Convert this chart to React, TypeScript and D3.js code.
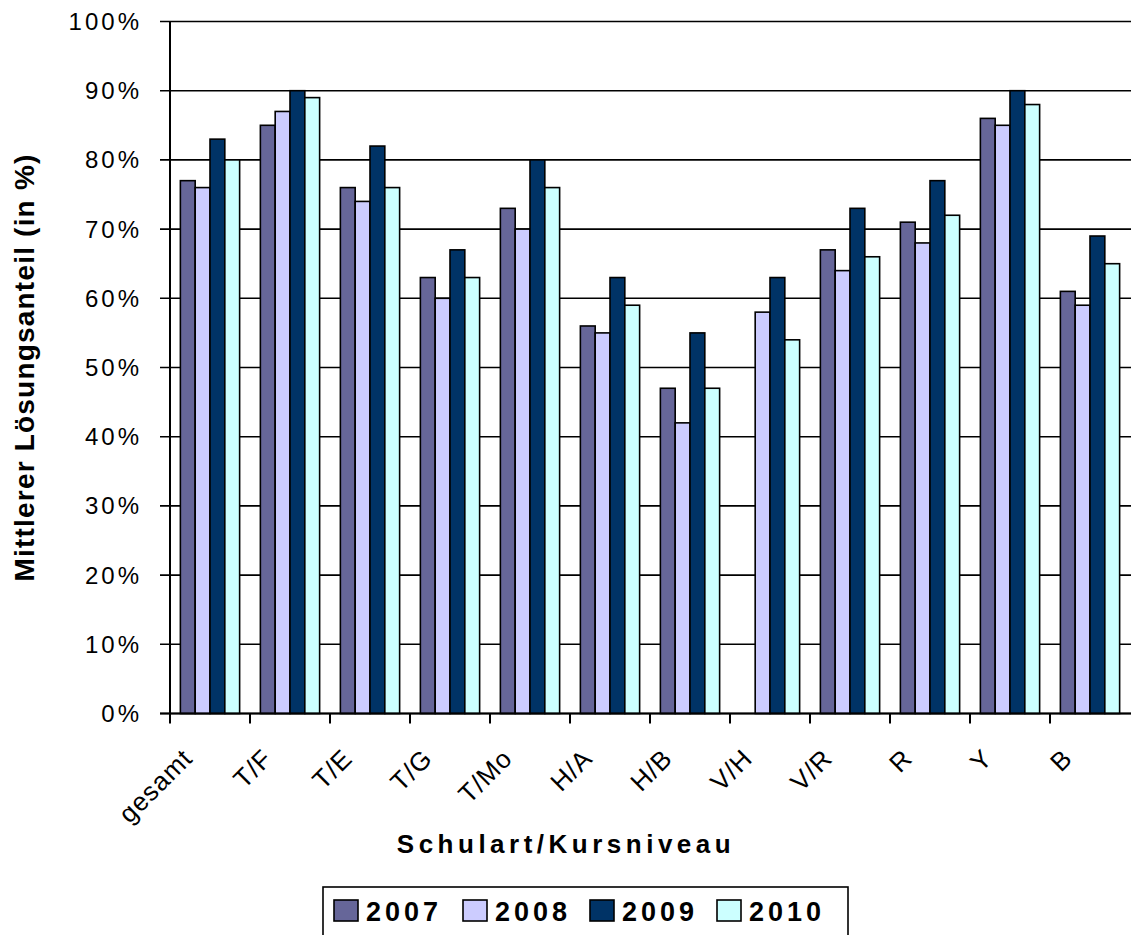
import React from "react";
import * as d3 from "d3";

const categories = ["gesamt", "T/F", "T/E", "T/G", "T/Mo", "H/A", "H/B", "V/H", "V/R", "R", "Y", "B"];
const seriesNames = ["2007", "2008", "2009", "2010"];
const values2007: (number | null)[] = [77, 85, 76, 63, 73, 56, 47, null, 67, 71, 86, 61];
const values2008: (number | null)[] = [76, 87, 74, 60, 70, 55, 42, 58, 64, 68, 85, 59];
const values2009: (number | null)[] = [83, 90, 82, 67, 80, 63, 55, 63, 73, 77, 90, 69];
const values2010: (number | null)[] = [80, 89, 76, 63, 76, 59, 47, 54, 66, 72, 88, 65];
const yTicks = [0, 10, 20, 30, 40, 50, 60, 70, 80, 90, 100];
const colors = ["#666699", "#CCCCFF", "#003366", "#CCFFFF"];

const W = 1131;
const H = 935;
const FONT = "'Liberation Sans', Arial, sans-serif";

export default function App() {
  const series = [values2007, values2008, values2009, values2010];
  const left = 170;
  const right = 1130;
  const top = 21.5;
  const bottom = 713.5;

  const x0 = d3.scaleBand<string>().domain(categories).range([left, right]).paddingInner(0).paddingOuter(0);
  const x1 = d3
    .scaleBand<string>()
    .domain(seriesNames)
    .range([0, x0.bandwidth()])
    .paddingInner(0)
    .paddingOuter(0.7);
  const y = d3.scaleLinear().domain([0, 100]).range([bottom, top]);

  const legendX = [334, 463, 590, 717];

  return (
    <svg width={W} height={H} style={{ position: "absolute", left: 0, top: 0, background: "#fff" }}>
      <rect x={0} y={0} width={W} height={H} fill="#fff" />
      {yTicks.map((t) => (
        <line key={"g" + t} x1={160} x2={W} y1={y(t)} y2={y(t)} stroke="#000" strokeWidth={1.6} />
      ))}
      {yTicks.map((t) => (
        <text
          key={"yl" + t}
          x={142}
          y={y(t) + 8.5}
          textAnchor="end"
          fontFamily={FONT}
          fontSize={24}
          letterSpacing={3}
          fill="#000"
        >
          {t + "%"}
        </text>
      ))}
      {categories.map((c, ci) => (
        <g key={c} transform={`translate(${x0(c)},0)`}>
          {series.map((s, si) => {
            const v = s[ci];
            if (v === null || v === undefined) return null;
            return (
              <rect
                key={si}
                x={x1(seriesNames[si])}
                y={y(v)}
                width={x1.bandwidth()}
                height={y(0) - y(v)}
                fill={colors[si]}
                stroke="#000"
                strokeWidth={1.6}
              />
            );
          })}
        </g>
      ))}
      <line x1={left} x2={left} y1={top} y2={bottom} stroke="#000" strokeWidth={2} />
      <line x1={160} x2={W} y1={bottom} y2={bottom} stroke="#000" strokeWidth={2} />
      {categories.map((c) => (
        <line key={"t" + c} x1={x0(c)} x2={x0(c)} y1={bottom} y2={bottom + 10} stroke="#000" strokeWidth={2} />
      ))}
      {categories.map((c) => {
        const cx = (x0(c) as number) + x0.bandwidth() / 2;
        const ax = cx - 16;
        const ay = 760;
        return (
          <text
            key={"xl" + c}
            x={ax}
            y={ay}
            transform={`rotate(-45 ${ax} ${ay})`}
            textAnchor="end"
            fontFamily={FONT}
            fontSize={26}
            letterSpacing={1}
            fill="#000"
          >
            {c}
          </text>
        );
      })}
      <text
        transform={`translate(34, ${(top + bottom) / 2}) rotate(-90)`}
        textAnchor="middle"
        fontFamily={FONT}
        fontSize={28}
        fontWeight="bold"
        letterSpacing={1.2}
        fill="#000"
      >
        Mittlerer Lösungsanteil (in %)
      </text>
      <text
        x={566}
        y={853}
        textAnchor="middle"
        fontFamily={FONT}
        fontSize={26}
        fontWeight="bold"
        letterSpacing={4.5}
        fill="#000"
      >
        Schulart/Kursniveau
      </text>
      <rect x={323} y={887} width={525} height={60} fill="#fff" stroke="#000" strokeWidth={1.6} />
      {seriesNames.map((s, i) => (
        <g key={"lg" + s}>
          <rect x={legendX[i]} y={900} width={24} height={21} fill={colors[i]} stroke="#000" strokeWidth={1.6} />
          <text
            x={legendX[i] + 32}
            y={921}
            fontFamily={FONT}
            fontSize={27}
            fontWeight="bold"
            letterSpacing={4}
            fill="#000"
          >
            {s}
          </text>
        </g>
      ))}
    </svg>
  );
}
